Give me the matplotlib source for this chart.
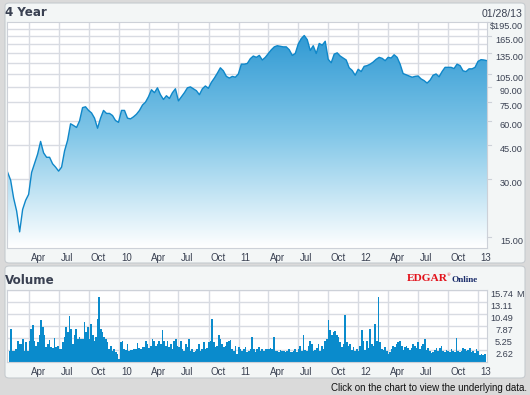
import matplotlib
matplotlib.use("Agg")
from matplotlib import pyplot as plt
from matplotlib.patches import FancyBboxPatch
from matplotlib.colors import LinearSegmentedColormap
from matplotlib.transforms import blended_transform_factory, ScaledTranslation
import numpy as np
import pandas as pd

W, H = 530, 395

# closing price, sampled about every 9 days from 01/26/09 to 01/28/13
price = [32.5, 29.6, 23.9, 20.5, 16.0, 20.9, 23.3, 25.0, 32.5, 36.3,
         40.4, 47.0, 41.0, 38.9, 38.9, 36.0, 34.6, 33.0, 34.6, 42.0,
         47.6, 58.0, 56.8, 55.5, 60.0, 70.3, 71.0, 68.0, 66.0, 62.0,
         55.0, 62.0, 68.0, 65.6, 65.6, 64.0, 60.3, 59.0, 68.0, 68.0,
         62.0, 61.5, 63.0, 65.0, 68.0, 72.5, 75.0, 80.0, 87.0, 84.0,
         89.0, 82.0, 77.5, 81.0, 78.4, 84.0, 88.0, 76.2, 80.0, 84.0,
         89.0, 90.0, 88.0, 86.0, 82.0, 88.0, 91.0, 88.5, 95.0, 100.0,
         106.0, 113.0, 109.0, 102.0, 100.0, 102.0, 101.0, 105.0, 118.0, 118.0,
         119.0, 126.0, 130.0, 128.0, 131.0, 124.0, 128.0, 134.0, 140.0, 145.0,
         147.0, 146.0, 145.0, 145.0, 140.0, 131.0, 134.0, 150.0, 160.0, 166.0,
         158.0, 139.0, 147.0, 134.0, 151.0, 148.0, 155.0, 125.0, 120.0, 133.0,
         135.0, 130.0, 127.0, 124.0, 113.0, 109.5, 103.4, 111.0, 108.0, 115.0,
         116.0, 118.0, 121.0, 125.0, 128.0, 126.5, 123.0, 128.0, 127.0, 132.0,
         128.0, 118.0, 105.5, 104.0, 102.5, 101.0, 102.0, 102.5, 99.0, 97.0,
         94.2, 97.5, 103.4, 105.0, 101.5, 108.0, 113.6, 113.6, 113.6, 112.0,
         118.0, 116.0, 109.0, 108.0, 111.6, 111.6, 113.6, 122.0, 124.5, 124.0,
         123.0]
price_start, price_end = "2009-01-26", "2013-01-28"

# volume in millions, sampled about every 5 days from 02/01/09 to 01/21/13
volume = [2.5, 7.3, 2.5, 2.5, 2.9, 4.7, 4.0, 4.0, 5.1, 2.5, 4.4, 2.5, 4.7, 7.3, 8.0, 4.7,
          3.6, 4.4, 5.8, 9.2, 7.6, 5.8, 3.3, 4.0, 4.9, 3.3, 3.1, 5.3, 3.3, 3.6, 2.9, 2.9,
          4.4, 5.5, 7.6, 6.6, 10.0, 7.3, 4.0, 5.8, 7.3, 5.1, 5.5, 5.1, 5.1, 8.7, 6.6, 7.6,
          5.1, 8.4, 5.8, 4.7, 5.5, 9.5, 14.3, 7.3, 6.6, 5.5, 5.1, 4.4, 2.9, 3.6, 2.5, 2.9,
          2.2, 1.8, 0.7, 4.4, 4.7, 2.9, 2.7, 4.0, 2.5, 2.7, 2.7, 2.9, 2.9, 4.1, 3.1, 2.9,
          3.3, 3.3, 4.7, 4.0, 3.1, 3.6, 5.1, 4.7, 3.6, 4.0, 4.7, 4.0, 7.1, 4.7, 3.6, 4.7,
          3.3, 4.0, 2.9, 4.7, 5.1, 3.6, 3.3, 4.7, 2.9, 2.5, 4.0, 3.3, 5.1, 2.5, 2.9, 2.2,
          2.4, 2.9, 4.0, 2.5, 2.9, 4.4, 2.9, 3.1, 4.4, 4.7, 9.5, 4.4, 3.3, 3.6, 5.8, 5.1,
          4.0, 3.3, 3.6, 4.4, 4.7, 4.9, 2.9, 2.5, 3.6, 1.8, 3.3, 2.9, 2.5, 2.9, 3.3, 2.2,
          2.5, 2.9, 5.5, 2.9, 2.2, 2.9, 3.3, 2.5, 2.9, 2.5,
          2.9, 2.9, 2.9, 3.1, 2.9, 5.5, 2.4, 2.5, 2.2, 2.7, 2.4, 2.5, 2.2, 2.4, 2.9, 2.2,
          2.2, 2.5, 2.9, 2.2, 2.9, 3.6, 2.5, 5.8, 2.7, 2.5, 3.6, 4.6, 4.0, 2.5, 2.7, 3.1,
          4.0, 2.5, 3.6, 2.9, 4.7, 5.1, 9.2, 6.9, 5.8, 6.6, 6.8, 5.8, 5.5, 4.4, 3.3, 4.0,
          10.2, 4.4, 3.6, 4.0, 2.7, 3.3, 2.5, 2.9, 2.5, 3.6, 6.9, 4.7, 2.7, 4.7, 3.1, 7.3,
          4.0, 3.6, 8.4, 4.7, 14.2, 4.4, 2.9, 2.7, 3.3, 2.4, 1.8, 2.2, 2.9, 3.6, 3.3, 4.0,
          4.4, 4.7, 3.6, 2.7, 3.3, 3.6, 3.1, 2.7, 3.1, 4.0, 3.4, 3.1, 4.4, 2.9, 3.4, 3.9,
          5.1, 2.7, 3.1, 2.5, 2.0, 2.2, 2.7, 3.1, 2.4, 3.1, 3.4, 2.5, 2.2, 2.7, 2.5, 2.2,
          2.9, 2.5, 2.2, 5.3, 2.5, 2.2, 2.4, 3.1, 2.9, 2.5, 2.7, 3.1, 2.2, 2.5, 2.0, 2.9,
          2.4, 1.5, 1.8, 1.5, 1.7]
vol_start, vol_end = "2009-02-01", "2013-01-21"

price_labels = [195, 165, 135, 105, 90, 75, 60, 45, 30, 15]
price_grid = [15 * k for k in range(1, 13)]
vol_labels = ["2.62", "5.25", "7.87", "10.49", "13.11", "15.74"]

month_ticks = ["2009-04-01", "2009-07-01", "2009-10-01", "2010-01-01",
               "2010-04-01", "2010-07-01", "2010-10-01", "2011-01-01",
               "2011-04-01", "2011-07-01", "2011-10-01", "2012-01-01",
               "2012-04-01", "2012-07-01", "2012-10-01", "2013-01-01"]
month_labels = ["Apr", "Jul", "Oct", "10", "Apr", "Jul", "Oct", "11",
                "Apr", "Jul", "Oct", "12", "Apr", "Jul", "Oct", "13"]
x_range = ("2009-01-24", "2013-01-28")

BG = "#dadada"
PANEL = "#f3f6f6"
GRID = "#d8dbe2"
TXT = "#3a4152"
LINE = "#0f87c9"
BAR = "#0a8bcc"
FONT = "Liberation Sans"
XS = 7.0   # month label size
YS = 6.6   # value label size


def rect(x0, y0, x1, y1):
    # pixel box (from top-left) -> figure fraction
    return [x0 / W, 1 - y1 / H, (x1 - x0) / W, (y1 - y0) / H]


fig = plt.figure(figsize=(W / 100, H / 100), dpi=100, facecolor=BG)

for (x0, y0, x1, y1) in [(5, 3, 525, 263), (5, 266, 525, 378)]:
    r = rect(x0, y0, x1, y1)
    fig.add_artist(FancyBboxPatch((r[0], r[1]), r[2], r[3],
                                  boxstyle="round,pad=0,rounding_size=0.008",
                                  transform=fig.transFigure, fc=PANEL,
                                  ec="#c6cbcf", lw=0.8, zorder=-5))

fig.text(5 / W, 1 - 12.5 / H, "4 Year", fontsize=8.6, fontweight="bold",
         color=TXT, va="center", ha="left", family="DejaVu Sans")
fig.text(5 / W, 1 - 280 / H, "Volume", fontsize=8.6, fontweight="bold",
         color=TXT, va="center", ha="left", family="DejaVu Sans")
fig.text(523 / W, 1 - 14 / H, "01/28/13", fontsize=7.6, color=TXT,
         va="center", ha="right", family=FONT)
fig.text(527 / W, 1 - 388 / H, "Click on the chart to view the underlying data.",
         fontsize=7.0, color="#111111", va="center", ha="right", family=FONT)
# EDGAR Online logo
fig.text(407 / W, 1 - 278.5 / H, "EDGAR", fontsize=8.2, fontweight="bold",
         color="#e3121b", va="center", ha="left", family="Liberation Serif")
fig.text(447 / W, 1 - 275 / H, "\u00ae", fontsize=3.5, color="#e3121b",
         va="center", ha="left", family="Liberation Serif")
fig.text(451 / W, 1 - 279.5 / H, "Online", fontsize=6.6, fontweight="bold",
         color="#1b2d6b", va="center", ha="left", family="Liberation Serif")

p_dates = pd.date_range(price_start, price_end, periods=len(price))
v_dates = pd.date_range(vol_start, vol_end, periods=len(volume))
xlim = (pd.Timestamp(x_range[0]), pd.Timestamp(x_range[1]))
ticks = pd.to_datetime(month_ticks)


def style_axes(ax):
    ax.set_facecolor("white")
    ax.set_xlim(*xlim)
    for s in ax.spines.values():
        s.set_color("#cdd1d8")
        s.set_linewidth(0.8)
    ax.set_xticks(ticks)
    ax.set_xticklabels(month_labels, ha="left", fontsize=XS, color=TXT,
                       family=FONT)
    ax.tick_params(axis="x", length=0, pad=3.5)
    for lbl in ax.get_xticklabels():
        lbl.set_transform(lbl.get_transform() +
                          ScaledTranslation(1.5 / 72, 0, fig.dpi_scale_trans))
    ax.grid(axis="x", color=GRID, lw=1.0)
    ax.set_axisbelow(True)


# price panel
ax = fig.add_axes(rect(7, 22, 487, 248))
style_axes(ax)
ax.set_yscale("log")
ax.set_ylim(13.2, 195)
ax.set_yticks([])
ax.minorticks_off()
for g in price_grid:
    ax.axhline(g, color=GRID, lw=1.0, zorder=0.5)

poly = ax.fill_between(p_dates, price, 13.2, color="none", lw=0)
cmap = LinearSegmentedColormap.from_list(
    "fade", [(0, "#ffffff"), (0.5, "#82c7e8"), (1, "#2694d1")])
grad = np.linspace(0, 1, 256).reshape(-1, 1)
im = ax.imshow(grad, cmap=cmap, aspect="auto", origin="lower",
               extent=[0, 1, 0, 1], transform=ax.transAxes, zorder=1)
im.set_clip_path(poly.get_paths()[0], ax.transData)
ax.plot(p_dates, price, color=LINE, lw=1.0, zorder=2)

tr = blended_transform_factory(ax.transAxes, ax.transData)
for v in price_labels:
    txt = "$%.2f" % v if v == 195 else "%.2f" % v
    ax.text((523 - 7) / 480, v, txt, transform=tr, ha="right", va="top",
            fontsize=YS, color=TXT, family=FONT)
    ax.plot([1.0, 1.008], [v, v], transform=tr, color="#cdd1d8", lw=0.8,
            clip_on=False)

# volume panel
vx = fig.add_axes(rect(7, 290, 487, 362))
style_axes(vx)
vx.set_ylim(0, 15.74)
vx.set_yticks([])
for lab in vol_labels:
    vx.axhline(float(lab), color=GRID, lw=1.0, zorder=0.5)
vx.bar(v_dates, volume, width=5.2, color=BAR, lw=0, align="center", zorder=2)
tr2 = blended_transform_factory(vx.transAxes, vx.transData)
for lab in vol_labels:
    vx.text((513 - 7) / 480, float(lab), lab, transform=tr2, ha="right",
            va="top", fontsize=YS, color=TXT, family=FONT)
vx.text((516 - 7) / 480, 15.74, "M", transform=tr2, ha="left", va="top",
        fontsize=YS, color=TXT, family=FONT)

fig.savefig("out.png", dpi=100, facecolor=BG)
